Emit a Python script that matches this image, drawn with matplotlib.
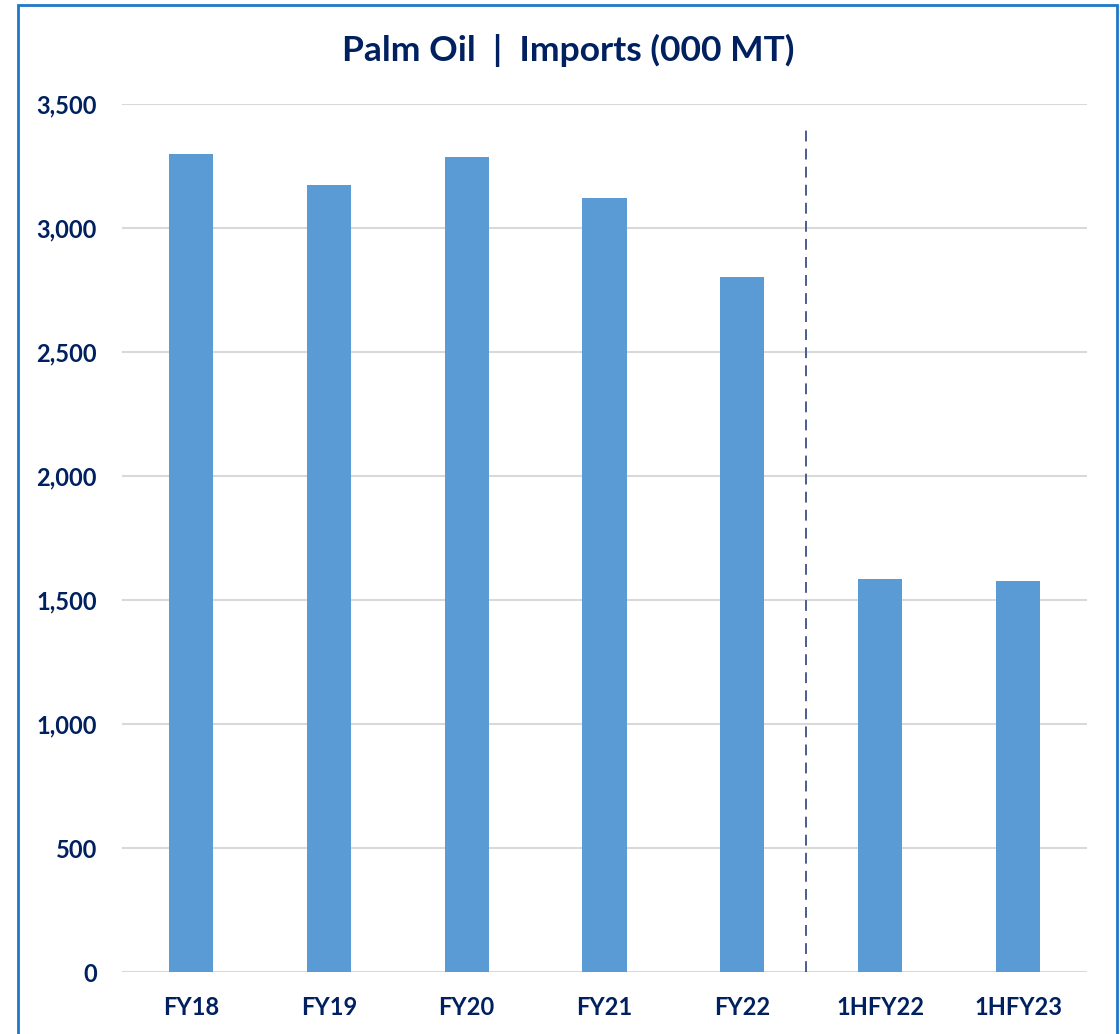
import matplotlib
matplotlib.use('Agg')
import matplotlib.pyplot as plt
from matplotlib.patches import Rectangle
from matplotlib.ticker import FuncFormatter

cats = ['FY18', 'FY19', 'FY20', 'FY21', 'FY22', '1HFY22', '1HFY23']
imports = [3298, 3173, 3286, 3121, 2802, 1585, 1577]
split_at = 4.46  # dashed separator between full years and half years

navy = '#002060'
plt.rcParams['font.family'] = ['Lato', 'DejaVu Sans']

fig = plt.figure(figsize=(11.2, 10.34), dpi=100)
ax = fig.add_axes([122/1120, 1 - 972/1034, (1087-122)/1120, (972-104)/1034])

x = list(range(len(cats)))
ax.bar(x, imports, width=0.32, color='#5B9BD5', zorder=3)
ax.axvline(split_at, ymin=0, ymax=(972-128)/868, color='#3B5283', lw=1.3,
           ls=(0, (6, 4)), zorder=4)

ax.set_xlim(-0.5, 6.5)
ax.set_ylim(0, 3500)
ax.set_yticks(range(0, 3501, 500))
ax.yaxis.set_major_formatter(FuncFormatter(lambda v, p: f'{int(v):,}'))
ax.set_xticks(x)
ax.set_xticklabels(cats)
ax.grid(axis='y', color='#D9D9D9', lw=1.5, zorder=0)
for s in ax.spines.values():
    s.set_visible(False)
ax.tick_params(length=0, labelsize=17, labelcolor=navy)
ax.tick_params(axis='y', pad=18)
ax.tick_params(axis='x', pad=17)
for t in ax.get_xticklabels() + ax.get_yticklabels():
    t.set_fontweight('bold')

fig.text(568/1120, 1 - 50/1034, 'Palm Oil  |  Imports (000 MT)', ha='center', va='center',
         fontsize=25.5, fontweight='bold', color=navy)

fig.patches.append(Rectangle((18/1120, -0.05), (1117-18)/1120, 1.05 - 5/1034,
                             transform=fig.transFigure, fill=False,
                             edgecolor='#1F78C8', lw=2))

fig.savefig('out.png', dpi=100)
